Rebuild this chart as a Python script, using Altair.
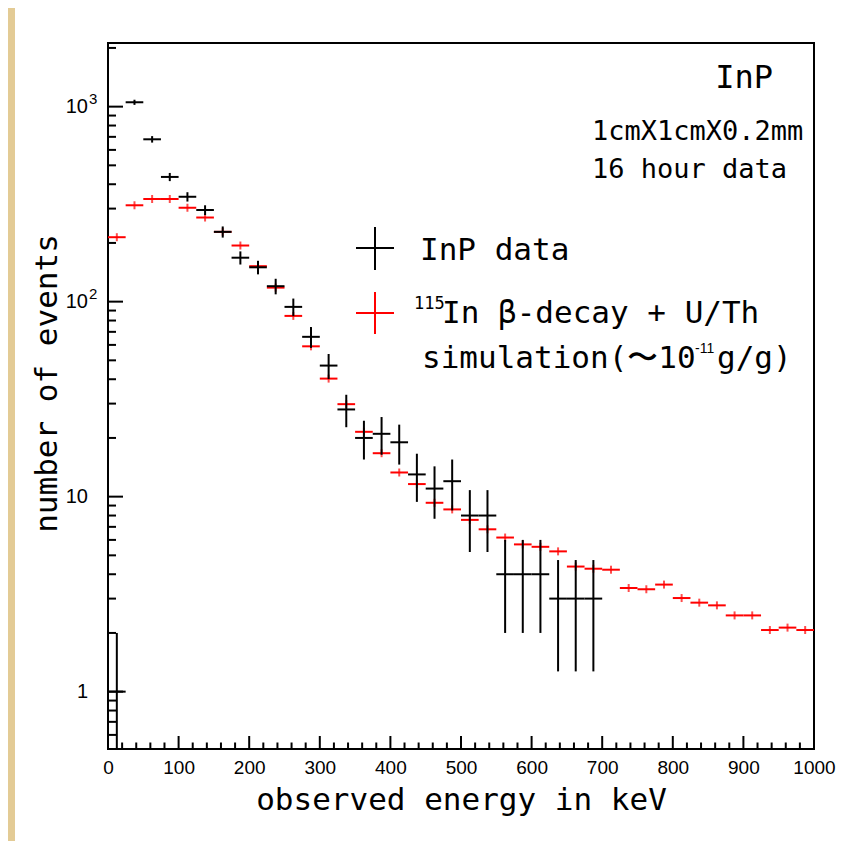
import altair as alt
import pandas as pd

# ---------------- data ----------------
YMIN, YMAX = 0.508, 2120.0
HALF_BIN = 12.5  # 25 keV bins

data_centers = [12.5, 37.5, 62.5, 87.5, 112.5, 137.5, 162.5, 187.5, 212.5, 237.5,
                262.5, 287.5, 312.5, 337.5, 362.5, 387.5, 412.5, 437.5, 462.5, 487.5,
                512.5, 537.5, 562.5, 587.5, 612.5, 637.5, 662.5, 687.5]
data_counts = [1, 1053, 680, 436, 345, 295, 228, 168, 150, 120,
               94, 66, 47, 28, 20, 21, 19, 13, 11, 12,
               8, 8, 4, 4, 4, 3, 3, 3]
data_errors = [1, 32, 26, 21, 19, 17, 15, 13, 12, 11,
               9.7, 8.1, 6.9, 5.3, 4.5, 4.6, 4.4, 3.6, 3.3, 3.5,
               2.8, 2.8, 2.0, 2.0, 2.0, 1.73, 1.73, 1.73]

sim_centers = [12.5, 37.5, 62.5, 87.5, 112.5, 137.5, 162.5, 187.5, 212.5, 237.5,
               262.5, 287.5, 312.5, 337.5, 362.5, 387.5, 412.5, 437.5, 462.5, 487.5,
               512.5, 537.5, 562.5, 587.5, 612.5, 637.5, 662.5, 687.5, 712.5, 737.5,
               762.5, 787.5, 812.5, 837.5, 862.5, 887.5, 912.5, 937.5, 962.5, 987.5]
sim_values = [214, 312, 336, 336, 303, 270, 228, 194, 152, 118,
              84.5, 59, 40.3, 29.8, 21.5, 16.7, 13.3, 11.6, 9.3, 8.6,
              7.6, 6.8, 6.17, 5.69, 5.53, 5.24, 4.38, 4.27, 4.22, 3.40,
              3.35, 3.54, 3.02, 2.86, 2.77, 2.46, 2.46, 2.07, 2.13, 2.07]

x_major_ticks = [0, 100, 200, 300, 400, 500, 600, 700, 800, 900, 1000]
x_minor_ticks = [v for v in range(20, 1000, 20) if v % 100 != 0]
y_major_ticks = [1, 10, 100, 1000]
y_label_base = ["1", "10", "10", "10"]
y_label_exp = ["", "", "2", "3"]
y_minor_ticks = [0.6, 0.7, 0.8, 0.9, 2, 3, 4, 5, 6, 7, 8, 9,
                 20, 30, 40, 50, 60, 70, 80, 90,
                 200, 300, 400, 500, 600, 700, 800, 900, 2000]

x_title = "observed energy in keV"
y_title = "number of events"
legend_data = "InP data"
legend_sim_sup = "115"
legend_sim_1 = "In β-decay + U/Th"
legend_sim_2a = "simulation(〜10"
legend_sim_2sup = "-11"
legend_sim_2b = "g/g)"
note_1 = "InP"
note_2 = "1cmX1cmX0.2mm"
note_3 = "16 hour data"

MONO = "DejaVu Sans Mono"
SANS = "Liberation Sans"
W, H = 706, 706

# ---------------- tables ----------------
df_data = pd.DataFrame({"center": data_centers, "value": data_counts})
df_data["lo"] = df_data["center"] - HALF_BIN
df_data["hi"] = df_data["center"] + HALF_BIN
df_data["elo"] = [max(v - e, YMIN) for v, e in zip(data_counts, data_errors)]
df_data["ehi"] = [v + e for v, e in zip(data_counts, data_errors)]

df_sim = pd.DataFrame({"center": sim_centers, "value": sim_values})
df_sim["lo"] = df_sim["center"] - HALF_BIN
df_sim["hi"] = df_sim["center"] + HALF_BIN

df_ylab = pd.DataFrame({"y": y_major_ticks, "base": y_label_base, "exp": y_label_exp})

xs = alt.Scale(domain=[0, 1000], nice=False, zero=False)
ys = alt.Scale(type="log", domain=[YMIN, YMAX], nice=False)

x_axis = alt.Axis(
    values=x_major_ticks, title=x_title, format="d", labelFont=SANS, labelFontSize=19,
    labelPadding=9, labelFlush=False, labelOverlap=False,
    titleFont=MONO, titleFontSize=31, titleFontWeight="normal",
    titleBaseline="alphabetic", titleY=60, titleX=W / 2, titleAlign="center",
)
y_axis = alt.Axis(
    values=y_major_ticks, title=y_title, labels=False,
    titleFont=MONO, titleFontSize=31, titleFontWeight="normal",
    titleAngle=270, titleBaseline="alphabetic", titleX=-52, titleY=340, titleAlign="center",
)

def X(field):
    return alt.X(field, scale=xs, axis=x_axis)

def Y(field):
    return alt.Y(field, scale=ys, axis=y_axis)

# ---------------- layers ----------------
one = pd.DataFrame({"k": [0]})

beige = alt.Chart(one).mark_rect(color="#e3cb95").encode(
    x=alt.value(-100), x2=alt.value(-93), y=alt.value(-35), y2=alt.value(H + 92)
)

xminor = alt.Chart(pd.DataFrame({"x": x_minor_ticks})).mark_rule(color="black", strokeWidth=2).encode(
    x=X("x:Q"), y=alt.value(H), y2=alt.value(H - 6.5)
)
xmajor = alt.Chart(pd.DataFrame({"x": x_major_ticks})).mark_rule(color="black", strokeWidth=2).encode(
    x=X("x:Q"), y=alt.value(H), y2=alt.value(H - 13)
)
yminor = alt.Chart(pd.DataFrame({"y": y_minor_ticks})).mark_rule(color="black", strokeWidth=2).encode(
    y=Y("y:Q"), x=alt.value(0), x2=alt.value(8)
)
ymajor = alt.Chart(pd.DataFrame({"y": y_major_ticks})).mark_rule(color="black", strokeWidth=2).encode(
    y=Y("y:Q"), x=alt.value(0), x2=alt.value(15)
)

ylab_base = alt.Chart(df_ylab).mark_text(
    font=SANS, fontSize=20, align="right", baseline="middle", color="black"
).encode(y=Y("y:Q"), x=alt.value(-20), text="base:N")
ylab_exp = alt.Chart(df_ylab).mark_text(
    font=SANS, fontSize=15, align="left", baseline="middle", color="black", dy=-8
).encode(y=Y("y:Q"), x=alt.value(-19), text="exp:N")

sim_h = alt.Chart(df_sim).mark_rule(color="#ff0000", strokeWidth=2).encode(
    x=X("lo:Q"), x2="hi:Q", y=Y("value:Q"),
)
sim_v = alt.Chart(df_sim).mark_tick(color="#ff0000", orient="vertical", size=8, thickness=2).encode(
    x=X("center:Q"), y=Y("value:Q"),
)

dat_h = alt.Chart(df_data).mark_rule(color="black", strokeWidth=2).encode(
    x=X("lo:Q"), x2="hi:Q", y=Y("value:Q"),
)
dat_v = alt.Chart(df_data).mark_rule(color="black", strokeWidth=2).encode(
    x=X("center:Q"), y=Y("elo:Q"), y2="ehi:Q",
)

# legend (drawn by hand, ROOT style)
def seg(color, x1, x2, y1, y2):
    return alt.Chart(one).mark_rule(color=color, strokeWidth=2).encode(
        x=alt.value(x1), x2=alt.value(x2), y=alt.value(y1), y2=alt.value(y2)
    )

def label(txt, x, y, size, align="left", font=MONO):
    return alt.Chart(pd.DataFrame({"t": [txt]})).mark_text(
        font=font, fontSize=size, align=align, baseline="alphabetic", color="black"
    ).encode(x=alt.value(x), y=alt.value(y), text="t:N")

leg = [
    seg("black", 248, 286, 205, 205), seg("black", 267, 267, 184, 227),
    seg("#ff0000", 248, 286, 270, 270), seg("#ff0000", 267, 267, 249, 291),
    label(legend_data, 312, 217, 31),
    label(legend_sim_sup, 306, 266, 17),
    label(legend_sim_1, 334, 280, 31),
    label(legend_sim_2a, 314, 325, 31),
    label(legend_sim_2sup, 587, 310, 14, font=SANS),
    label(legend_sim_2b, 609, 325, 31),
    label(note_1, 665, 45, 32, align="right"),
    label(note_2, 484, 97, 27),
    label(note_3, 484, 135, 27),
]

chart = alt.layer(
    beige, sim_h, sim_v, dat_h, dat_v, xminor, xmajor, yminor, ymajor,
    ylab_base, ylab_exp, *leg
).properties(
    width=W, height=H,
    padding={"left": 100, "top": 35, "right": 40, "bottom": 92},
    autosize=alt.AutoSizeParams(type="none"),
    background="white",
).configure_view(
    stroke="black", strokeWidth=2
).configure_axis(
    grid=False, domain=False, ticks=False, labelColor="black", titleColor="black"
)

chart.save("out.html", embed_options={"renderer": "svg", "actions": False})
